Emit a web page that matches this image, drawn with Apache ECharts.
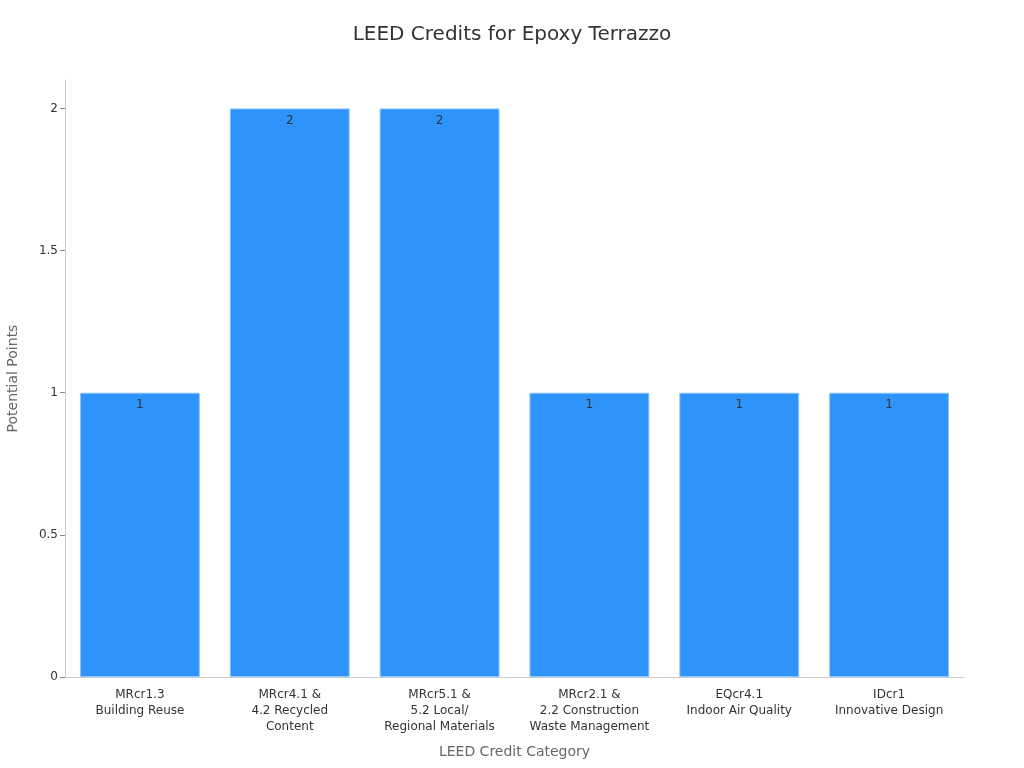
<!DOCTYPE html>
<html>
<head>
<meta charset="utf-8">
<script src="https://cdn.jsdelivr.net/npm/echarts@6/dist/echarts.min.js"></script>
<style>
  html, body { margin: 0; padding: 0; background: #fff; }
  #main { width: 1024px; height: 768px; }
</style>
</head>
<body>
<div id="main"></div>
<script>
// data
var categories = [
  "MRcr1.3\nBuilding Reuse",
  "MRcr4.1 &\n4.2 Recycled\nContent",
  "MRcr5.1 &\n5.2 Local/\nRegional Materials",
  "MRcr2.1 &\n2.2 Construction\nWaste Management",
  "EQcr4.1\nIndoor Air Quality",
  "IDcr1\nInnovative Design"
];
var points = [1, 2, 2, 1, 1, 1];
var yTicks = [0, 0.5, 1, 1.5, 2];

var myChart = echarts.init(document.getElementById("main"));
var font = "DejaVu Sans";

var option = {
  backgroundColor: "#ffffff",
  title: {
    text: "LEED Credits for Epoxy Terrazzo",
    left: "center",
    top: 20,
    textStyle: { color: "#333333", fontSize: 20, fontWeight: "normal", fontFamily: font }
  },
  grid: { left: 65, right: 60, top: 80, bottom: 91, containLabel: false, outerBoundsMode: "none" },
  xAxis: {
    type: "category",
    data: categories,
    name: "LEED Credit Category",
    nameLocation: "middle",
    nameGap: 68,
    nameTextStyle: { color: "#666666", fontSize: 14, fontFamily: font },
    axisLine: { lineStyle: { color: "#cccccc" } },
    axisTick: { alignWithLabel: true, length: 5, lineStyle: { color: "#888888" } },
    axisLabel: { color: "#333333", fontSize: 12, fontFamily: font, lineHeight: 16, margin: 10, interval: 0 }
  },
  yAxis: {
    type: "value",
    min: 0,
    max: 2.1,
    name: "Potential Points",
    nameLocation: "middle",
    nameGap: 45,
    nameTextStyle: { color: "#666666", fontSize: 14, fontFamily: font },
    axisLine: { show: true, lineStyle: { color: "#cccccc" } },
    axisTick: { show: true, length: 5, customValues: yTicks, lineStyle: { color: "#888888" } },
    splitLine: { show: false },
    axisLabel: {
      color: "#333333",
      fontSize: 12,
      fontFamily: font,
      margin: 7,
      customValues: yTicks
    }
  },
  series: [
    {
      type: "bar",
      data: points,
      barCategoryGap: "20%",
      itemStyle: { color: "#2E93FA", borderColor: "#8cc4ff", borderWidth: 1 },
      label: {
        show: true,
        position: "insideTop",
        distance: 6,
        color: "#333333",
        fontSize: 12,
        fontFamily: font
      }
    }
  ]
};
myChart.setOption(option);
</script>
</body>
</html>
